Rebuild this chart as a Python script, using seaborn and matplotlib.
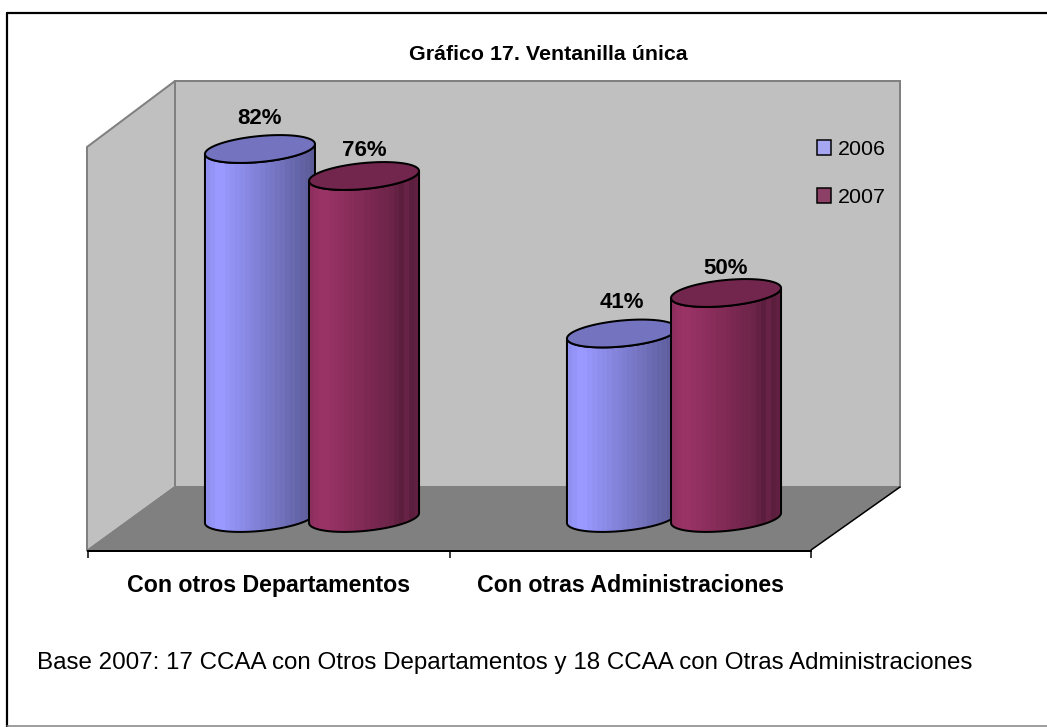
import numpy as np
import pandas as pd
import matplotlib
matplotlib.use("Agg")
import matplotlib.pyplot as plt
from matplotlib.patches import Polygon
import seaborn as sns

title = "Gráfico 17. Ventanilla única"
footnote = "Base 2007: 17 CCAA con Otros Departamentos y 18 CCAA con Otras Administraciones"
categories = ["Con otros Departamentos", "Con otras Administraciones"]
years = ["2006", "2007"]
values_2006 = [82, 41]
values_2007 = [76, 50]
colors = ["#9999FF", "#993366"]

W, H = 1047, 727
sns.set_theme(style="white")
plt.rcParams["font.family"] = ["Liberation Sans", "DejaVu Sans"]
fig = plt.figure(figsize=(W / 100, H / 100), dpi=100, facecolor="white")
px = 0.72  # one pixel in points


def pixel_axes(x0, x1, ybottom, ytop, z):
    return fig.add_axes([x0 / W, 1 - ybottom / H, (x1 - x0) / W, (ybottom - ytop) / H], zorder=z)


# chart frame and 3D walls
bg = fig.add_axes([0, 0, 1, 1], zorder=0)
bg.set_xlim(0, W)
bg.set_ylim(H, 0)
bg.axis("off")
bg.plot([7, 7], [13, 727], color="black", lw=2.2 * px)
bg.plot([7, 1047], [13, 13], color="black", lw=2.2 * px)
bg.plot([7, 1047], [726, 726], color="#808080", lw=1.5 * px)
wall_kw = dict(ec="#808080", lw=2 * px, joinstyle="miter")
bg.add_patch(Polygon([(87, 147), (175, 81), (175, 487), (87, 551)], fc="#C0C0C0", **wall_kw))
bg.add_patch(Polygon([(175, 81), (900, 81), (900, 487), (175, 487)], fc="#C0C0C0", **wall_kw))
bg.add_patch(Polygon([(175, 487), (900, 487), (811, 550), (88, 550)], fc="#808080", ec="#808080", lw=px))
bg.plot([811, 900], [550, 487], color="black", lw=1.5 * px)
bg.plot([88, 175], [550, 487], color="#808080", lw=1.5 * px)
bg.text(548, 54, title, ha="center", va="center", fontsize=15.4, fontweight="bold", color="black")
bg.text(37, 663, footnote, ha="left", va="center", fontsize=17.4, color="black")

# category axis on the front edge of the floor
front = pixel_axes(88, 811, 551, 147, 1)
front.patch.set_visible(False)
front.set_xlim(-0.5, 1.5)
front.set_ylim(0, 1)
for s in ["top", "left", "right"]:
    front.spines[s].set_visible(False)
front.spines["bottom"].set_color("black")
front.spines["bottom"].set_linewidth(2 * px)
front.set_xticks([-0.5, 0.5, 1.5])
front.set_xticklabels([])
front.set_xticks([0, 1], minor=True)
front.set_xticklabels(categories, minor=True, fontweight="bold", fontsize=16.7, color="black")
front.tick_params(axis="x", which="major", length=7 * px, width=1.5 * px, color="black", bottom=True)
front.tick_params(axis="x", which="minor", length=0, pad=16.5)
front.set_yticks([])

# cylinders: seaborn bars supply position and height
df = pd.DataFrame({
    "categoria": categories * 2,
    "anio": [years[0]] * 2 + [years[1]] * 2,
    "valor": values_2006 + values_2007,
})
ax = pixel_axes(131, 855, 536, 113, 2)
ax.patch.set_visible(False)
sns.barplot(data=df, x="categoria", y="valor", hue="anio", hue_order=years, order=categories,
            palette=colors, width=0.575, gap=0, edgecolor="black", linewidth=1.5 * px, ax=ax)
ux = 724 / 2        # px per category
uy = 423 / 94       # px per percent
half = 55 / ux
minor = 13 / uy
skew = 5 / uy
label_lift = [31, 25]
z = 3
for s_i, container in enumerate(ax.containers):
    base = np.array(matplotlib.colors.to_rgb(colors[s_i]))
    for bar in container:
        cx = bar.get_x() + bar.get_width() / 2
        val = bar.get_height()
        t = np.linspace(0, 2 * np.pi, 121)
        ex, ey = half * np.cos(t), minor * np.sin(t) + skew * np.cos(t)
        tf = np.linspace(np.pi, 2 * np.pi, 61)          # front half, left to right
        fx, fy = half * np.cos(tf), minor * np.sin(tf) + skew * np.cos(tf)
        body = np.vstack([np.column_stack([cx + fx, fy]),
                          np.column_stack([(cx + fx)[::-1], (val + fy)[::-1]])])
        bar.set_visible(False)
        outline = Polygon(body, closed=True, fc="none", ec="black", lw=2 * px, zorder=z + 1,
                          joinstyle="round")
        clip = Polygon(body, closed=True, transform=ax.transData)
        shade = np.r_[np.linspace(0.94, 1.0, 3), np.linspace(1.0, 0.6, 19)]
        if s_i == 1:
            shade[-5:] = [0.66, 0.60, 0.68, 0.60, 0.64]
        img = np.clip(base[None, None, :] * shade[None, :, None], 0, 1)
        im = ax.imshow(img, extent=(cx - half, cx + half, -minor * 2, val + minor * 2), aspect="auto",
                       interpolation="nearest", zorder=z)
        im.set_clip_path(clip)
        ax.add_patch(outline)
        ax.fill(cx + ex, val + ey, fc=base * 0.75, ec="black", lw=2 * px, zorder=z + 2)
        ax.annotate(f"{val:.0f}%", (cx, val), xytext=(0, label_lift[s_i] * px), textcoords="offset points",
                    ha="center", va="center", fontsize=16, fontweight="bold", color="black",
                    zorder=z + 3, annotation_clip=False)
        z += 4
ax.set_xlim(-0.5, 1.5)
ax.set_ylim(-4, 90)
ax.axis("off")
handles, labels = ax.get_legend_handles_labels()
leg = ax.legend(handles, labels, loc="center left", bbox_to_anchor=(817 / W, 1 - 173.5 / H),
                bbox_transform=fig.transFigure, frameon=False, fontsize=15.4, labelcolor="black",
                handlelength=0.66, handleheight=0.66, handletextpad=0.33, labelspacing=1.34,
                borderpad=0, borderaxespad=0)
leg.set_zorder(100)
for p in leg.get_patches():
    p.set_edgecolor("black")
    p.set_linewidth(1.5 * px)

fig.savefig("out.png", dpi=100)
